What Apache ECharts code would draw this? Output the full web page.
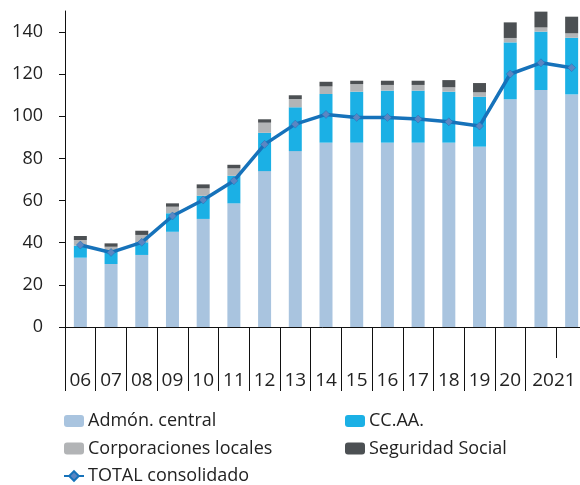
<!DOCTYPE html>
<html>
<head>
<meta charset="utf-8">
<script src="https://cdn.jsdelivr.net/npm/echarts@6/dist/echarts.min.js"></script>
<style>
  html, body { margin: 0; padding: 0; background: #fff; }
  #chart { width: 580px; height: 485px; }
</style>
</head>
<body>
<div id="chart"></div>
<script>
// categorías (las dos últimas barras comparten la etiqueta "2021")
const years = ['06', '07', '08', '09', '10', '11', '12', '13', '14', '15', '16', '17', '18', '19', '20', '2021', '']

// series apiladas
const admonCentral = [32.9, 29.9, 34.2, 45.2, 51.3, 58.7, 74.0, 83.5, 87.5, 87.5, 87.5, 87.5, 87.5, 85.6, 108.1, 112.5, 110.4]
const ccaa = [5.7, 6.3, 6.0, 8.8, 11.0, 13.1, 18.2, 20.8, 23.1, 24.2, 24.7, 24.7, 24.2, 23.7, 27.0, 27.7, 26.9]
const corpLocales = [2.7, 1.9, 3.5, 3.1, 3.5, 3.5, 4.8, 3.9, 3.6, 3.6, 2.7, 2.7, 2.1, 2.1, 2.1, 2.0, 2.1]
const segSocial = [1.9, 1.6, 2.0, 1.6, 1.9, 1.7, 1.6, 1.8, 2.2, 1.6, 2.0, 2.0, 3.4, 4.4, 7.4, 7.5, 7.9]

// línea
const totalConsolidado = [38.9, 35.4, 40.2, 52.7, 60.3, 69.4, 86.7, 96.3, 100.9, 99.5, 99.5, 98.7, 97.4, 95.4, 120.1, 125.4, 123.1]

const yTicks = [0, 20, 40, 60, 80, 100, 120, 140]

const font = "'Open Sans', sans-serif"
const textColor = '#222'

const chart = echarts.init(document.getElementById('chart'))

// etiqueta "2021" desplazada para quedar entre las dos últimas barras
const categoryData = years.map((y) => {
  if (y === '2021') {
    return { value: y, textStyle: { padding: [0, 0, 0, 26] } }
  }
  return y
})

const barSeries = (name, data, color) => ({
  name,
  type: 'bar',
  stack: 'total',
  data,
  barWidth: 13,
  itemStyle: { color },
  emphasis: { disabled: true }
})

const legendBase = {
  top: 412,
  height: 100,
  padding: 0,
  orient: 'vertical',
  itemWidth: 20,
  itemHeight: 12,
  itemGap: 9.5,
  textStyle: { fontFamily: font, fontSize: 18, color: textColor, padding: [0, 0, 0, -1] }
}

const option = {
  animation: false,
  textStyle: { fontFamily: font, color: textColor },
  // el área del gráfico se sale por la derecha, como en el original
  grid: { left: 65, width: 522, top: 11, bottom: 158, outerBoundsMode: 'none' },
  legend: [
    { ...legendBase, left: 63, data: ['Admón. central', 'Corporaciones locales', 'TOTAL consolidado'] },
    { ...legendBase, left: 345, data: ['CC.AA.', 'Seguridad Social'] }
  ],
  xAxis: [
    {
      type: 'category',
      data: categoryData,
      axisLine: { lineStyle: { color: '#111', width: 1 } },
      axisTick: {
        show: true,
        length: 64,
        interval: (i) => i !== 16,
        lineStyle: { color: '#111', width: 1 }
      },
      axisLabel: {
        interval: 0,
        margin: 44,
        fontFamily: font,
        fontSize: 19,
        color: textColor
      }
    },
    {
      type: 'category',
      data: categoryData,
      position: 'bottom',
      axisLine: { show: false },
      axisTick: { show: true, length: 31, interval: 0, lineStyle: { color: '#111', width: 1 } },
      axisLabel: { show: false }
    }
  ],
  yAxis: {
    type: 'value',
    min: 0,
    max: 150,
    splitLine: { show: false },
    axisLine: { show: true, lineStyle: { color: '#111', width: 1 } },
    axisTick: { show: true, length: 6, customValues: yTicks, lineStyle: { color: '#111' } },
    axisLabel: {
      customValues: yTicks,
      margin: 22,
      fontFamily: font,
      fontSize: 18,
      color: textColor
    }
  },
  series: [
    barSeries('Admón. central', admonCentral, '#a9c4df'),
    barSeries('CC.AA.', ccaa, '#1bb0e5'),
    barSeries('Corporaciones locales', corpLocales, '#b2b4b6'),
    barSeries('Seguridad Social', segSocial, '#4c5053'),
    {
      name: 'TOTAL consolidado',
      type: 'line',
      data: totalConsolidado,
      z: 5,
      symbol: 'diamond',
      symbolSize: 8,
      lineStyle: { color: '#1672ba', width: 3.5 },
      itemStyle: { color: '#5b86c2', borderColor: '#1672ba', borderWidth: 0.5 },
      emphasis: { disabled: true }
    }
  ]
}

chart.setOption(option)
</script>
</body>
</html>
